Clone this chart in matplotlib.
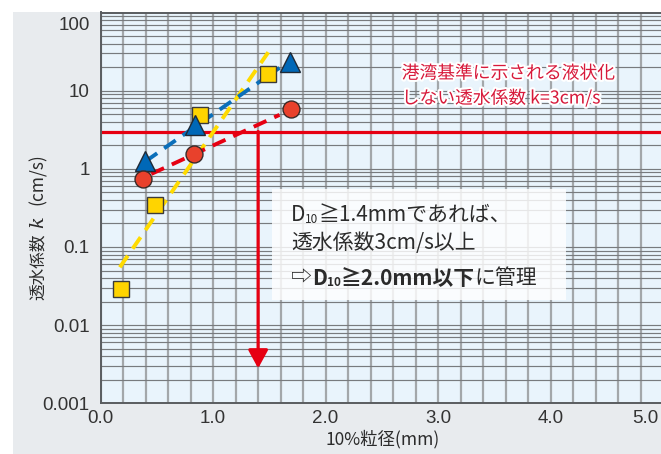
import matplotlib
matplotlib.use("Agg")
import matplotlib.pyplot as plt
from matplotlib.ticker import MultipleLocator, LogLocator, FixedLocator, NullFormatter
from matplotlib.patches import Rectangle
import matplotlib.patheffects as pe
import matplotlib.transforms as mtransforms

# ---------------- data ----------------
red_x = [0.38, 0.83, 1.69]
red_y = [0.75, 1.55, 5.9]
blue_x = [0.39, 0.84, 1.68]
blue_y = [1.25, 3.6, 23.0]
yellow_x = [0.18, 0.48, 0.88, 1.49]
yellow_y = [0.029, 0.34, 4.9, 16.5]

red_fit_x = [0.45, 1.59]
red_fit_y = [0.86, 4.9]
blue_fit_x = [0.40, 1.59]
blue_fit_y = [1.25, 19.6]
yellow_fit_x = [0.17, 1.49]
yellow_fit_y = [0.055, 31.0]

k_limit = 3.0
d10_limit = 1.4
arrow_end_y = 0.0028

x_ticks = [0.0, 1.0, 2.0, 3.0, 4.0, 5.0]
x_ticklabels = ["0.0", "1.0", "2.0", "3.0", "4.0", "5.0"]
y_ticks = [0.001, 0.01, 0.1, 1, 10, 100]
y_ticklabels = ["0.001", "0.01", "0.1", "1", "10", "100"]

note_red = "港湾基準に示される液状化\nしない透水係数 k=3cm/s"
xlabel = "10%粒径(mm)"

# ---------------- style ----------------
JP = ["Noto Sans CJK JP", "DejaVu Sans"]
plt.rcParams["font.family"] = JP

W, H = 661, 454
fig = plt.figure(figsize=(W / 100, H / 100), dpi=100)
fig.patch.set_facecolor("white")
fig.patches.append(Rectangle((13 / W, 0), 1, (H - 12) / H, transform=fig.transFigure,
                             facecolor="#e8ebee", edgecolor="none", zorder=-10))

ax_left = 100.7 / W
ax_right = 663.0 / W
ax_top = 1 - 12.5 / H
ax_bottom = 1 - 403.3 / H
ax = fig.add_axes([ax_left, ax_bottom, ax_right - ax_left, ax_top - ax_bottom])
ax.set_facecolor("#e9f4fc")
ax.set_yscale("log")
ax.set_xlim(0, 5.0)
ax.set_ylim(0.001, 100)

# grid
ax.xaxis.set_minor_locator(MultipleLocator(0.2))
ax.yaxis.set_major_locator(FixedLocator(y_ticks))
ax.yaxis.set_minor_locator(LogLocator(base=10, subs=range(2, 10), numticks=20))
ax.yaxis.set_minor_formatter(NullFormatter())
ax.grid(axis="x", which="both", color="#a3a7aa", lw=1.6, zorder=0)
ax.grid(axis="y", which="both", color="#787b7e", lw=0.85, zorder=0)
ax.set_axisbelow(True)

ax.set_xticks(x_ticks)
ax.set_xticklabels(x_ticklabels, family=["Liberation Sans"], fontsize=13.5, color="#333333")
ax.set_yticks(y_ticks)
ax.set_yticklabels(y_ticklabels, family=["Liberation Sans"], fontsize=13.5, color="#333333")
ax.tick_params(which="both", length=0)
ax.tick_params(axis="x", pad=5)
ax.tick_params(axis="y", pad=8)
lbls = ax.get_xticklabels()
lbls[-1].set_ha("right")
lbls[-1].set_transform(lbls[-1].get_transform() +
                       mtransforms.ScaledTranslation(-5 / 100, 0, fig.dpi_scale_trans))
ylbls = ax.get_yticklabels()
ylbls[-1].set_va("top")
ylbls[-1].set_transform(ylbls[-1].get_transform() +
                        mtransforms.ScaledTranslation(0, -5 / 100, fig.dpi_scale_trans))

for s in ["left", "bottom", "top"]:
    ax.spines[s].set_color("#5a5d60")
    ax.spines[s].set_linewidth(1.4)
ax.spines["right"].set_visible(False)

RED = "#e60012"
# limit lines
ax.axhline(k_limit, color=RED, lw=2.3, zorder=2)
ax.annotate("", xy=(d10_limit, arrow_end_y), xytext=(d10_limit, k_limit),
            arrowprops=dict(arrowstyle="-|>,head_length=1.1,head_width=0.6",
                            color=RED, lw=2.3, shrinkA=0, shrinkB=0), zorder=2)

# fit lines
dash = (0, (3.6, 2.2))
ax.plot(yellow_fit_x, yellow_fit_y, color="#ffdb00", lw=2.8, linestyle=dash, zorder=3)
ax.plot(blue_fit_x, blue_fit_y, color="#0a6fba", lw=2.8, linestyle=dash, zorder=3.1)
ax.plot(red_fit_x, red_fit_y, color=RED, lw=2.8, linestyle=dash, zorder=3.2)

# markers
ax.plot(yellow_x, yellow_y, "s", ms=12, mfc="#ffd400", mec="#3a3a3a", mew=1.0, ls="none", zorder=4)
ax.plot(blue_x, blue_y, "^", ms=13.7, mfc="#0068b7", mec="#1f2a36", mew=1.0, ls="none", zorder=5)
ax.plot(red_x, red_y, "o", ms=12.2, mfc="#e8412c", mec="#3a2a28", mew=1.0, ls="none", zorder=6)

# red note
ax.text(401.7 / W, 1 - 86 / H, note_red, transform=fig.transFigure, ha="left", va="center",
        fontsize=12.8, color="#d7193a", linespacing=1.45, zorder=7,
        path_effects=[pe.withStroke(linewidth=3, foreground="white")])

# white box (inside the axes drawing order so text can sit above it)
box = Rectangle((272 / W, 1 - 300 / H), (566 - 272) / W, (300 - 189) / H,
                transform=fig.transFigure, facecolor="white", alpha=0.82,
                edgecolor="none", zorder=7, clip_on=False)
ax.add_patch(box)

TXT = "#2b2b2b"
BIG = 15
SMALL = 8.5


def chain_annot(x_px, y_px, pieces):
    prev = ax.text(x_px / W, 1 - y_px / H, pieces[0][0], transform=fig.transFigure,
                   fontsize=pieces[0][1], weight=pieces[0][2], color=TXT,
                   ha="left", va="bottom", zorder=8, clip_on=False)
    for s, size, weight in pieces[1:]:
        prev = ax.annotate(s, xy=(1, 0), xycoords=prev, ha="left", va="bottom",
                           fontsize=size, weight=weight, color=TXT,
                           annotation_clip=False, zorder=8)
    return prev


chain_annot(291, 226, [("D", BIG, "normal"), ("10", SMALL, "normal"),
                       ("≧1.4mmであれば、", BIG, "normal")])
chain_annot(291, 254, [("透水係数3cm/s以上", BIG, "normal")])
chain_annot(291, 289, [("⇨", BIG, "normal"), ("D", BIG, "bold"), ("10", SMALL, "bold"),
                       ("≧2.0mm以下", BIG, "bold"), ("に管理", BIG, "normal")])

# x label
fig.text(383 / W, 1 - 439 / H, xlabel, fontsize=12.5, color=TXT, ha="center", va="center")

# y label (rotated, chained upward)
t1 = fig.text(38 / W, 1 - 300 / H, "透水係数", rotation=90, fontsize=12, color=TXT,
              ha="center", va="bottom")
t2 = ax.annotate("k", xy=(0.5, 1), xycoords=t1, xytext=(0, 4), textcoords="offset points",
                 rotation=90, ha="center", va="bottom", fontsize=14, style="italic",
                 family=["DejaVu Serif"], color=TXT, annotation_clip=False)
t3 = ax.annotate("(cm/s)", xy=(0.5, 1), xycoords=t2, xytext=(0, 8), textcoords="offset points",
                 rotation=90, ha="center", va="bottom", fontsize=12.5, color=TXT,
                 annotation_clip=False)

fig.savefig("out.png", dpi=100, facecolor=fig.get_facecolor())
